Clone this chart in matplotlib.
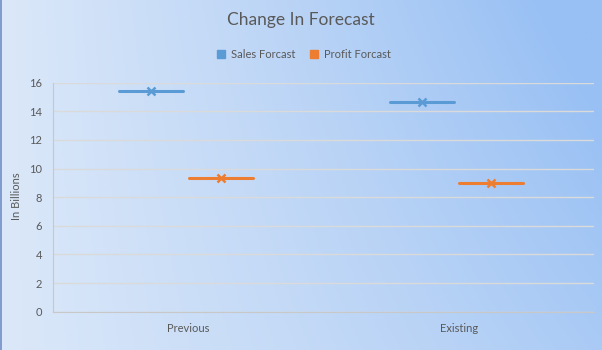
import numpy as np
import matplotlib.pyplot as plt
from matplotlib.colors import LinearSegmentedColormap

categories = ["Previous", "Existing"]
sales = [15.45, 14.62]
profit = [9.32, 8.97]
series_names = ["Sales Forcast", "Profit Forcast"]
yticks = [0, 2, 4, 6, 8, 10, 12, 14, 16]

plt.rcParams['font.family'] = ['Lato', 'DejaVu Sans']
fig = plt.figure(figsize=(6.02, 3.5), dpi=100)

# gradient background
bg = fig.add_axes([0, 0, 1, 1], zorder=-10)
nx, ny = 300, 200
xx, yy = np.meshgrid(np.linspace(0, 1, nx), np.linspace(0, 1, ny))
t = np.clip(0.75 * xx + 0.35 * (1 - yy) * xx, 0, 1)
cmap = LinearSegmentedColormap.from_list("g", ["#dbe8f9", "#bcd5f6", "#98c0f4"])
bg.imshow(t, cmap=cmap, aspect='auto', extent=[0, 1, 0, 1], origin='upper', vmin=0, vmax=1)
bg.set_axis_off()
bg.plot([0.002, 0.002], [0, 1], color='#6f8fc8', lw=1.2, transform=bg.transAxes)

ax = fig.add_axes([53 / 602, 1 - 311.7 / 350, (594 - 53) / 602, (311.7 - 82.7) / 350])
ax.set_facecolor('none')
x = np.arange(len(categories))
half = 0.118
colors = ["#5b9bd5", "#ed7d31"]
offsets = [-0.137, 0.12]
for vals, c, off in zip([sales, profit], colors, offsets):
    for xi, v in zip(x, vals):
        ax.plot([xi + off - half, xi + off + half], [v, v], color=c, lw=2.2,
                solid_capstyle='round', zorder=3)
        ax.plot([xi + off], [v], marker='x', color=c, ms=5.5, mew=1.8, zorder=4)

ax.set_xlim(-0.5, 1.5)
ax.set_ylim(0, 16)
ax.set_yticks(yticks)
ax.set_xticks(x)
ax.set_xticklabels(categories)
ax.grid(axis='y', color='#dadada', lw=1)
ax.set_axisbelow(True)
for s in ['top', 'right']:
    ax.spines[s].set_visible(False)
for s in ['left', 'bottom']:
    ax.spines[s].set_color('#c8c8c8')
ax.tick_params(axis='both', length=0, labelsize=8, colors='#595959', pad=8)
ax.tick_params(axis='x', pad=8)
fig.text(17 / 602, 1 - 196 / 350, "In Billions", rotation=90, ha='center', va='center',
         fontsize=8, color='#595959')

fig.text(0.5, 1 - 20 / 350, "Change In Forecast", ha='center', va='center',
         fontsize=12.5, color='#595959')

# legend
from matplotlib.lines import Line2D
handles = [Line2D([0], [0], marker='s', color='none', markerfacecolor=c,
                  markeredgecolor=c, markersize=6) for c in colors]
fig.legend(handles, series_names, loc='center', bbox_to_anchor=(0.505, 1 - 54.5 / 350),
           ncol=2, frameon=False, fontsize=8, labelcolor='#595959',
           handlelength=0.8, handletextpad=0.5, columnspacing=1.3)

fig.savefig("out.png", dpi=100)
